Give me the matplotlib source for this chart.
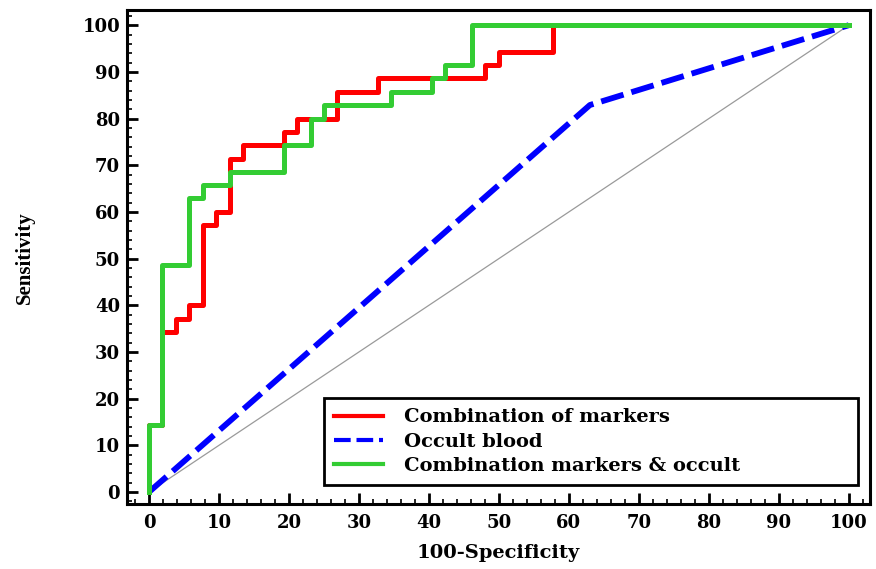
import matplotlib
matplotlib.use("Agg")
import matplotlib.pyplot as plt
from matplotlib.ticker import MultipleLocator

# ROC data (100-specificity, sensitivity), drawn as stairs
markers_fpr = [0, 1.92, 3.85, 5.77, 7.69, 9.62, 11.54, 13.46, 19.23, 21.15, 26.92, 32.69, 48.08, 50.0, 57.69, 100]
markers_tpr = [0, 14.3, 34.3, 37.1, 40.0, 57.1, 60.0, 71.4, 74.3, 77.1, 80.0, 85.7, 88.6, 91.4, 94.3, 100]

occult_fpr = [0, 63.0, 100]
occult_tpr = [0, 82.9, 100]

combo_fpr = [0, 1.92, 5.77, 7.69, 11.54, 19.23, 23.08, 25.0, 34.62, 40.38, 42.31, 46.15, 100]
combo_tpr = [0, 14.3, 48.6, 62.9, 65.7, 68.6, 74.3, 80.0, 82.9, 85.7, 88.6, 91.4, 100]

ref_line = [0, 100]

labels = ["Combination of markers", "Occult blood", "Combination markers & occult"]

plt.rcParams['font.family'] = ['DejaVu Serif']

fig = plt.figure(figsize=(8.76, 5.69), dpi=100)
ax = fig.add_axes([0.145, 0.114, 0.848, 0.868])

ax.plot(ref_line, ref_line, color='#9a9a9a', linewidth=0.9, zorder=1)
ax.plot(markers_fpr, markers_tpr, drawstyle='steps-pre', color='#ff0000', linewidth=3.6, label=labels[0], zorder=2)
ax.plot(occult_fpr, occult_tpr, color='#0000ff', linewidth=4.2, dashes=(4.0, 1.4), label=labels[1], zorder=3)
ax.plot(combo_fpr, combo_tpr, drawstyle='steps-pre', color='#33cc33', linewidth=3.6, label=labels[2], zorder=4)

ax.set_xlim(-3.14, 103.0)
ax.set_ylim(-2.6, 103.2)

ax.xaxis.set_major_locator(MultipleLocator(10))
ax.xaxis.set_minor_locator(MultipleLocator(2))
ax.yaxis.set_major_locator(MultipleLocator(10))
ax.yaxis.set_minor_locator(MultipleLocator(2))

ax.tick_params(which='major', direction='in', length=8, width=2, labelsize=13)
ax.tick_params(which='minor', direction='in', length=3.8, width=1.2)
ax.tick_params(axis='x', which='major', pad=7)
ax.tick_params(axis='y', which='major', pad=5)
ax.tick_params(top=False, right=False, which='both')
for lab in ax.get_xticklabels() + ax.get_yticklabels():
    lab.set_fontweight('bold')

for sp in ax.spines.values():
    sp.set_linewidth(2.2)

ax.set_xlabel('100-Specificity', fontsize=14, fontweight='bold', labelpad=9)
ax.set_ylabel('Sensitivity', fontsize=15, fontweight='bold', labelpad=34,
              family=['Liberation Serif', 'DejaVu Serif'])

leg = ax.legend(loc='lower left', bbox_to_anchor=(0.265, 0.038, 0.719, 0.177), mode='expand',
                prop={'weight': 'bold', 'size': 14},
                frameon=True, fancybox=False, framealpha=1, handlelength=2.5, handletextpad=1.1,
                labelspacing=0.33, borderpad=0.52, borderaxespad=0)
leg.get_frame().set_edgecolor('black')
leg.get_frame().set_linewidth(2)
for line in leg.get_lines():
    line.set_linewidth(3.0)

fig.savefig('out.png', dpi=100)
